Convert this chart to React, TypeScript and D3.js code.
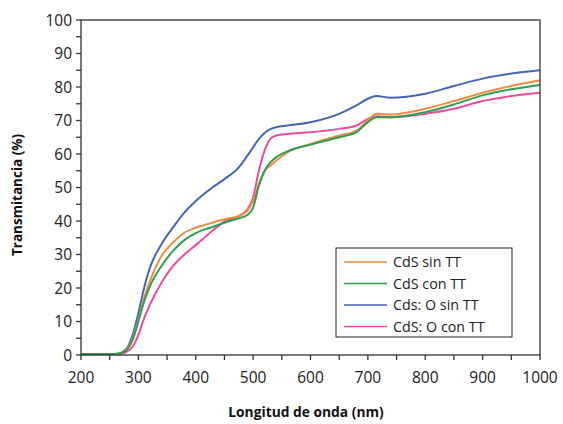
import React from "react";
import * as d3 from "d3";

const wavelengths = [200, 250, 265, 275, 280, 290, 300, 310, 320, 340, 360, 380, 400, 425, 450, 475, 490, 500, 510, 520, 530, 540, 560, 600, 650, 680, 700, 715, 740, 800, 850, 900, 950, 1000];
const cdsSinTT = [0.3, 0.3, 0.4, 1, 1.8, 5, 10.5, 17, 22, 29.5, 33.5, 36.5, 38, 39.3, 40.5, 41.5, 43, 46, 51, 55, 56.5, 58, 60.5, 63, 65.5, 67, 70, 72, 71.8, 73.5, 75.8, 78.3, 80.3, 82];
const cdsConTT = [0.3, 0.3, 0.4, 1, 1.6, 4.5, 10, 16, 20.5, 26.5, 31, 34.3, 36.4, 38, 39.5, 40.8, 41.8, 44, 50.5, 55, 57.5, 59, 60.8, 62.8, 65, 66.5, 69.5, 71, 71, 72.5, 74.8, 77.5, 79.3, 80.6];
const cdsOSinTT = [0.3, 0.3, 0.4, 1.2, 2, 6, 12.5, 20, 26, 33, 38, 42.5, 46, 49.5, 52.5, 56, 59.5, 62, 64.5, 66.3, 67.4, 68, 68.5, 69.5, 72, 74.5, 76.5, 77.3, 76.8, 78, 80.3, 82.5, 84, 85];
const cdsOConTT = [0.2, 0.2, 0.3, 0.6, 1, 2.5, 6, 11, 15, 21.5, 26.5, 30, 32.8, 36.5, 39.8, 41.5, 43.5, 47, 55, 61, 64.5, 65.5, 66, 66.5, 67.5, 68.5, 70.5, 71.3, 71, 72, 73.5, 75.8, 77.3, 78.3];

const seriesNames = ["CdS sin TT", "CdS con TT", "Cds: O sin TT", "CdS: O con TT"];
const seriesValues = [cdsSinTT, cdsConTT, cdsOSinTT, cdsOConTT];
const seriesColors = ["#F58A42", "#2E9E4F", "#4565B8", "#EE4B9E"];
const drawOrder = [2, 3, 0, 1];

const xTicks = [200, 300, 400, 500, 600, 700, 800, 900, 1000];
const xMinor = d3.range(200, 1001, 50);
const yTicks = [0, 10, 20, 30, 40, 50, 60, 70, 80, 90, 100];
const yMinor = d3.range(0, 101, 5);

export default function App() {
  const W = 563, H = 424;
  const left = 81, right = 540, top = 20, bottom = 355;
  const x = d3.scaleLinear().domain([200, 1000]).range([left, right]);
  const y = d3.scaleLinear().domain([0, 100]).range([bottom, top]);
  const line = d3.line<[number, number]>().x(d => x(d[0])).y(d => y(d[1])).curve(d3.curveMonotoneX);
  const font = "'Open Sans', 'DejaVu Sans', sans-serif";
  const axisColor = "#333";
  const legX = 336, legY = 248, legW = 176, legH = 89;
  return (
    <svg width={W} height={H} style={{ position: "absolute", left: 0, top: 0, background: "#fff" }}>
      <rect x={0} y={0} width={W} height={H} fill="#fff" />
      {drawOrder.map(i => (
        <path key={i} d={line(wavelengths.map((w, j) => [w, seriesValues[i][j]]))!} fill="none" stroke={seriesColors[i]} strokeWidth={2} />
      ))}
      <rect x={left} y={top} width={right - left} height={bottom - top} fill="none" stroke={axisColor} strokeWidth={1.3} />
      {xMinor.map(t => (
        <line key={"xm" + t} x1={x(t)} x2={x(t)} y1={bottom} y2={bottom + 5} stroke={axisColor} strokeWidth={1.3} />
      ))}
      {yMinor.map(t => (
        <line key={"ym" + t} x1={left - 5} x2={left} y1={y(t)} y2={y(t)} stroke={axisColor} strokeWidth={1.3} />
      ))}
      {xTicks.map(t => (
        <text key={"xt" + t} x={x(t)} y={bottom + 28} textAnchor="middle" fontFamily={font} fontSize={15.5} fill="#222">{t}</text>
      ))}
      {yTicks.map(t => (
        <text key={"yt" + t} x={left - 9} y={y(t) + 5.5} textAnchor="end" fontFamily={font} fontSize={15.5} fill="#222">{t}</text>
      ))}
      <text x={306} y={417} textAnchor="middle" fontFamily={font} fontSize={13.8} fontWeight="bold" fill="#111">Longitud de onda (nm)</text>
      <text transform={`translate(22,195) rotate(-90)`} textAnchor="middle" fontFamily={font} fontSize={13.5} fontWeight="bold" fill="#111">Transmitancia (%)</text>
      <rect x={legX} y={legY} width={legW} height={legH} fill="#fff" stroke="#222" strokeWidth={1} />
      {seriesNames.map((n, i) => {
        const cy = legY + 14 + i * 21.5;
        return (
          <g key={n}>
            <line x1={344} x2={387} y1={cy} y2={cy} stroke={seriesColors[i]} strokeWidth={1.5} />
            <text x={393} y={cy + 5} fontFamily={font} fontSize={14.3} fill="#222">{n}</text>
          </g>
        );
      })}
    </svg>
  );
}
